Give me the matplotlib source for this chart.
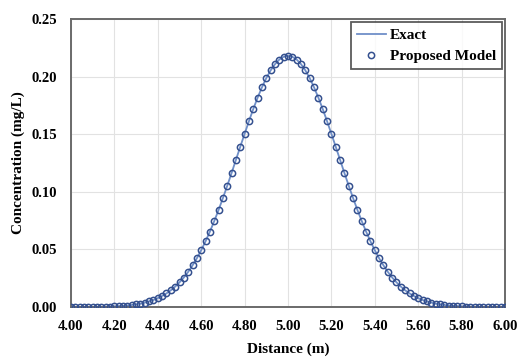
import matplotlib
matplotlib.use("Agg")
import matplotlib.pyplot as plt

# distance (m), step 0.02
distancia = [round(4.0 + 0.02 * i, 2) for i in range(101)]

# one half of the curve (from 5.00 out to 6.00)
mitad = [0.2180, 0.2172, 0.2148, 0.2108, 0.2054, 0.1987, 0.1907, 0.1817, 0.1719, 0.1613,
         0.1503, 0.1391, 0.1277, 0.1163, 0.1052, 0.0945, 0.0842, 0.0745, 0.0654, 0.0570,
         0.0493, 0.0423, 0.0361, 0.0305, 0.0256, 0.0214, 0.0177, 0.0145, 0.0118, 0.0096,
         0.0077, 0.0061, 0.0049, 0.0038, 0.0030, 0.0023, 0.0018, 0.0013, 0.0010, 0.0008,
         0.0006, 0.0004, 0.0003, 0.0002, 0.0002, 0.0001, 0.0001, 0.0001, 0.0000, 0.0000,
         0.0000]
exacta = mitad[::-1] + mitad[1:]
modelo = list(exacta)

xticks = [4.00, 4.20, 4.40, 4.60, 4.80, 5.00, 5.20, 5.40, 5.60, 5.80, 6.00]
yticks = [0.00, 0.05, 0.10, 0.15, 0.20, 0.25]

plt.rcParams["font.family"] = ["Liberation Serif", "DejaVu Serif"]
plt.rcParams["font.weight"] = "bold"

fig = plt.figure(figsize=(5.18, 3.58), dpi=100)
ax = fig.add_axes([71 / 518, 1 - 307 / 358, (505 - 71) / 518, (307 - 19) / 358])

ax.plot(distancia, exacta, color="#6F8FC8", lw=1.3, label="Exact", zorder=2)
ax.plot(distancia, modelo, ls="none", marker="o", ms=4.5, mfc="none",
        mec="#34508F", mew=1.1, label="Proposed Model", zorder=3)

ax.set_xlim(4.0, 6.0)
ax.set_ylim(0.0, 0.25)
ax.set_xticks(xticks)
ax.set_yticks(yticks)
ax.set_xticklabels([f"{v:.2f}" for v in xticks])
ax.set_yticklabels([f"{v:.2f}" for v in yticks])
ax.tick_params(length=0, labelsize=10.5)
ax.tick_params(axis="y", pad=10)
ax.tick_params(axis="x", pad=9)
ax.grid(True, color="#E2E2E2", lw=0.8)
ax.set_axisbelow(True)
for s in ax.spines.values():
    s.set_color("#6A6A6A")
    s.set_linewidth(1.4)

ax.set_xlabel("Distance (m)", fontsize=11, fontweight="bold", labelpad=7)
ax.set_ylabel("Concentration (mg/L)", fontsize=11, fontweight="bold", labelpad=5)

leg = ax.legend(loc="upper right", fontsize=11, frameon=True, fancybox=False,
                borderpad=0.4, handlelength=1.9, handletextpad=0.25,
                borderaxespad=0.2, labelspacing=0.5)
leg.get_frame().set_edgecolor("#333333")
leg.get_frame().set_linewidth(1.3)

fig.savefig("out.png", dpi=100)
